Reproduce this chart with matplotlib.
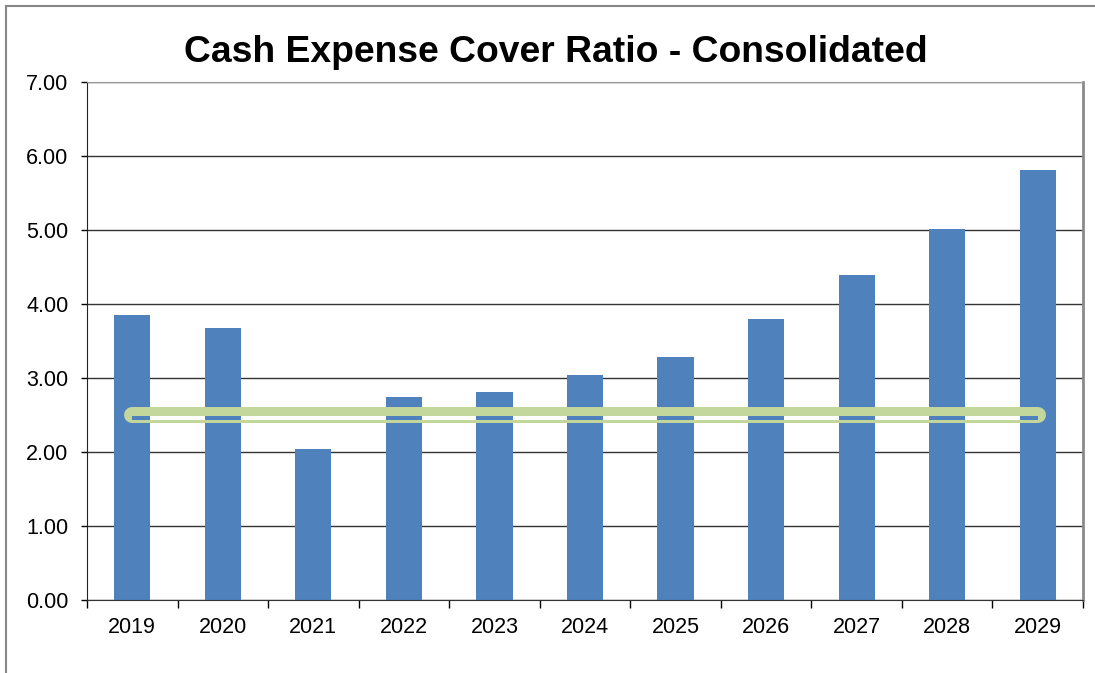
import numpy as np
import matplotlib.pyplot as plt
from matplotlib.patches import Rectangle
from matplotlib.lines import Line2D

plt.rcParams['font.family'] = ['Liberation Sans', 'DejaVu Sans']

years = ["2019", "2020", "2021", "2022", "2023", "2024", "2025", "2026", "2027", "2028", "2029"]
ratio = [3.85, 3.68, 2.04, 2.74, 2.81, 3.04, 3.28, 3.80, 4.39, 5.01, 5.81]
target = 2.5
y_ticks = [0, 1, 2, 3, 4, 5, 6, 7]

bar_color = "#4F81BD"
green = "#C3D69B"

fig = plt.figure(figsize=(10.95, 6.73), dpi=100)
ax = fig.add_axes([87/1095, 1 - 600/673, (1083 - 87)/1095, (600 - 82)/673])

x = np.arange(len(years))
ax.bar(x, ratio, width=0.4, color=bar_color, zorder=2)

# benchmark line (hollow look: thick green band with a thin gap)
ax.plot([x[0], x[-1]], [target, target], color=green, lw=11.5,
        solid_capstyle="round", zorder=3)
hole = Rectangle((x[0], target - 0.068), x[-1] - x[0], 0.048,
                 facecolor="white", edgecolor="none", zorder=4)
ax.add_patch(hole)
bars2 = ax.bar(x, ratio, width=0.4, color=bar_color, zorder=5)
for b in bars2:
    b.set_clip_path(hole)

ax.set_xlim(-0.5, len(years) - 0.5)
ax.set_ylim(0, 7)
ax.set_yticks(y_ticks)
ax.set_yticklabels([f"{v:.2f}" for v in y_ticks])
ax.set_xticks(x)
ax.set_xticklabels(years)
ax.set_xticks(np.arange(-0.5, len(years)), minor=True)
ax.tick_params(axis="x", which="major", length=0, pad=12, labelsize=15.5)
ax.tick_params(axis="x", which="minor", length=6, width=1, direction="out")
ax.tick_params(axis="y", length=4.5, width=1, direction="out", pad=9, labelsize=15.5)

ax.yaxis.grid(True, color="#333333", lw=1, zorder=0.5)
ax.set_axisbelow(True)

ax.spines["left"].set_color("#222222")
ax.spines["bottom"].set_color("#333333")
ax.spines["top"].set_color("#9a9a9a")
ax.spines["right"].set_color("#8a8a8a")
ax.spines["right"].set_linewidth(2)

fig.text(556/1095, 1 - 62.5/673, "Cash Expense Cover Ratio - Consolidated",
         ha="center", va="baseline", fontsize=26.8, fontweight="bold")

# outer chart border
fig.add_artist(Line2D([6/1095, 6/1095], [0, 1 - 6/673], color="#888888", lw=1.5))
fig.add_artist(Line2D([6/1095, 1], [1 - 6/673, 1 - 6/673], color="#888888", lw=1.5))

fig.savefig("out.png", dpi=100)
